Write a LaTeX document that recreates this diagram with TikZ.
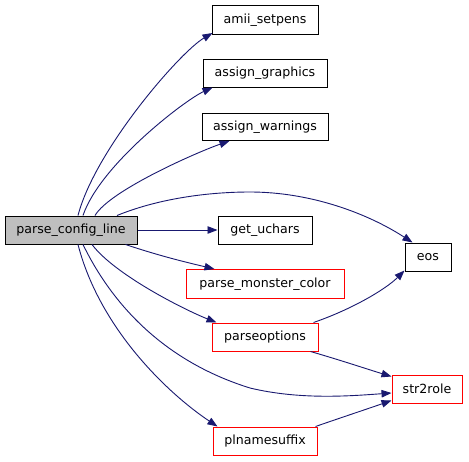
\documentclass[tikz,border=0pt]{standalone}
\usepackage{fontspec}
\setmainfont{DejaVu Sans}
\usetikzlibrary{arrows.meta}
\definecolor{edgeblue}{HTML}{191970}
\definecolor{nodegray}{HTML}{BFBFBF}
\tikzset{
  fn/.style={draw=black, line width=1pt, rectangle, inner sep=0pt, font=\fontsize{12.6}{14}\selectfont, text=black},
  fnred/.style={fn, draw=red},
  call/.style={draw=edgeblue, line width=0.9pt, -{Triangle[length=10pt,width=7.5pt]}, fill=none},
}
\begin{document}
\begin{tikzpicture}[x=1pt,y=-1pt]
\useasboundingbox (0,0) rectangle (469,461);
\fill[white] (0,0) rectangle (469,461);
% nodes
\node[fn, fill=nodegray, minimum width=132pt, minimum height=28pt] (pcl) at (71,230) {parse\_config\_line};
\node[fn, minimum width=106pt, minimum height=29pt] (amii) at (265,20) {amii\_setpens};
\node[fn, minimum width=124pt, minimum height=28pt] (agraph) at (265,73) {assign\_graphics};
\node[fn, minimum width=126pt, minimum height=27pt] (awarn) at (265,127) {assign\_warnings};
\node[fn, minimum width=94pt, minimum height=28pt] (getu) at (265,230) {get\_uchars};
\node[fnred, minimum width=158pt, minimum height=29pt] (pmc) at (265,284) {parse\_monster\_color};
\node[fnred, minimum width=106pt, minimum height=28pt] (popt) at (265,337) {parseoptions};
\node[fnred, minimum width=104pt, minimum height=28pt] (plname) at (265,441) {plnamesuffix};
\node[fn, minimum width=46pt, minimum height=28pt] (eos) at (428,257) {eos};
\node[fnred, minimum width=70pt, minimum height=28pt] (s2r) at (427,389) {str2role};
% edges
\draw[call] ([xshift=7pt]pcl.north) .. controls (95,150) and (180,52) .. ([xshift=1pt,yshift=2pt]amii.south west);
\draw[call] ([xshift=12pt]pcl.north) .. controls (100,165) and (185,100) .. ([xshift=10pt]agraph.south west);
\draw[call] ([xshift=24pt]pcl.north) .. controls (110,190) and (200,151) .. ([xshift=28pt]awarn.south west);
\draw[call] ([xshift=46pt]pcl.north) .. controls (160,198) and (210,192) .. (250,192) .. controls (310,192) and (367,213) .. ([xshift=8pt]eos.north west);
\draw[call] (pcl.east) -- (getu.west);
\draw[call] ([xshift=-12pt]pcl.south east) .. controls (160,256) and (185,262) .. ([xshift=29pt]pmc.north west);
\draw[call] ([xshift=21pt]pcl.south) .. controls (115,275) and (185,310) .. ([xshift=5pt]popt.north west);
\draw[call] ([xshift=12pt]pcl.south) .. controls (110,300) and (160,360) .. (250,388) .. controls (300,400) and (350,396) .. ([yshift=-4pt]s2r.west);
\draw[call] ([xshift=7pt]pcl.south) .. controls (100,330) and (170,395) .. ([xshift=5pt]plname.north west);
\draw[call] ([xshift=-5pt]popt.north east) .. controls (350,310) and (385,290) .. ([yshift=1pt]eos.south west);
\draw[call] ([xshift=-8pt]popt.south east) .. controls (340,360) and (370,370) .. ([yshift=-2pt]s2r.north west);
\draw[call] ([xshift=-2pt]plname.north east) .. controls (340,418) and (370,408) .. ([yshift=3pt]s2r.south west);
\end{tikzpicture}
\end{document}
